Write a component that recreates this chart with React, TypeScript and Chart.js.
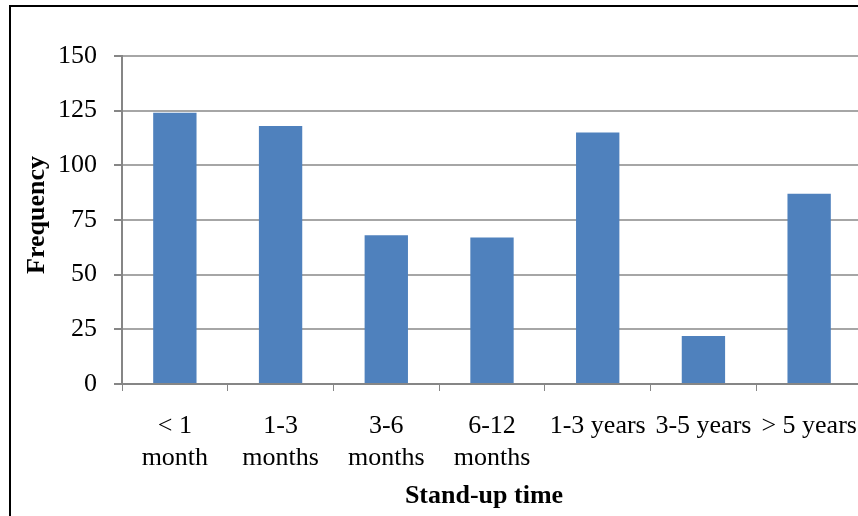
import React, { useEffect, useRef } from "react";
import { Chart, registerables } from "chart.js";

Chart.register(...registerables);

const categories: (string | string[])[] = [
  ["< 1", "month"],
  ["1-3", "months"],
  ["3-6", "months"],
  ["6-12", "months"],
  "1-3 years",
  "3-5 years",
  "> 5 years",
];
const frequency = [124, 118, 68, 67, 115, 22, 87];
const yTicks = [0, 25, 50, 75, 100, 125, 150];
const xTitle = "Stand-up time";
const yTitle = "Frequency";

const FONT = "'Liberation Serif', 'Times New Roman', serif";

const titlePlugin = {
  id: "axisTitles",
  afterDraw(chart: any) {
    const ctx = chart.ctx;
    ctx.save();
    ctx.fillStyle = "#000";
    ctx.font = `bold 26px ${FONT}`;
    ctx.textAlign = "center";
    ctx.textBaseline = "middle";
    ctx.fillText(xTitle, 484, 496);
    ctx.translate(37, 215);
    ctx.rotate(-Math.PI / 2);
    ctx.fillText(yTitle, 0, 0);
    ctx.restore();
  },
};

export default function App() {
  const ref = useRef<HTMLCanvasElement | null>(null);

  useEffect(() => {
    document.body.style.margin = "0";
    document.body.style.overflow = "hidden";
    const ctx = ref.current!;
    const chart = new Chart(ctx, {
      type: "bar",
      data: {
        labels: categories,
        datasets: [
          {
            data: frequency,
            backgroundColor: "#4F81BD",
            borderWidth: 0,
            categoryPercentage: 1,
            barPercentage: 0.41,
          },
        ],
      },
      options: {
        responsive: false,
        animation: false,
        devicePixelRatio: 1,
        layout: { padding: { top: 56, right: 18, left: 0, bottom: 0 } },
        plugins: { legend: { display: false }, tooltip: { enabled: false } },
        scales: {
          x: {
            grid: {
              display: true,
              drawOnChartArea: false,
              drawTicks: true,
              tickLength: 7,
              tickColor: "#868686",
              offset: true,
            },
            border: { color: "#868686", width: 2 },
            ticks: {
              color: "#000",
              font: { family: FONT, size: 26 },
              padding: 20,
              maxRotation: 0,
              minRotation: 0,
              autoSkip: false,
            },
            afterFit: (s: any) => {
              s.height = 132;
            },
          },
          y: {
            min: 0,
            max: 150,
            afterBuildTicks: (s: any) => {
              s.ticks = yTicks.map((v) => ({ value: v }));
            },
            grid: {
              color: "#a6a6a6",
              lineWidth: 2,
              drawTicks: true,
              tickLength: 8,
              tickColor: "#868686",
            },
            border: { color: "#868686", width: 2 },
            ticks: {
              color: "#000",
              font: { family: FONT, size: 26 },
              padding: 17,
            },
            afterFit: (s: any) => {
              s.width = 122;
            },
          },
        },
      },
      plugins: [titlePlugin],
    });
    return () => chart.destroy();
  }, []);

  return (
    <div
      style={{
        position: "absolute",
        left: 0,
        top: 0,
        width: 858,
        height: 516,
        overflow: "hidden",
        background: "#fff",
      }}
    >
      <canvas
        ref={ref}
        width={880}
        height={516}
        style={{ position: "absolute", left: 0, top: 0, width: 880, height: 516 }}
      />
      <div
        style={{
          position: "absolute",
          left: 9,
          top: 5,
          width: 900,
          height: 600,
          borderTop: "2px solid #000",
          borderLeft: "2px solid #000",
          pointerEvents: "none",
        }}
      />
    </div>
  );
}
